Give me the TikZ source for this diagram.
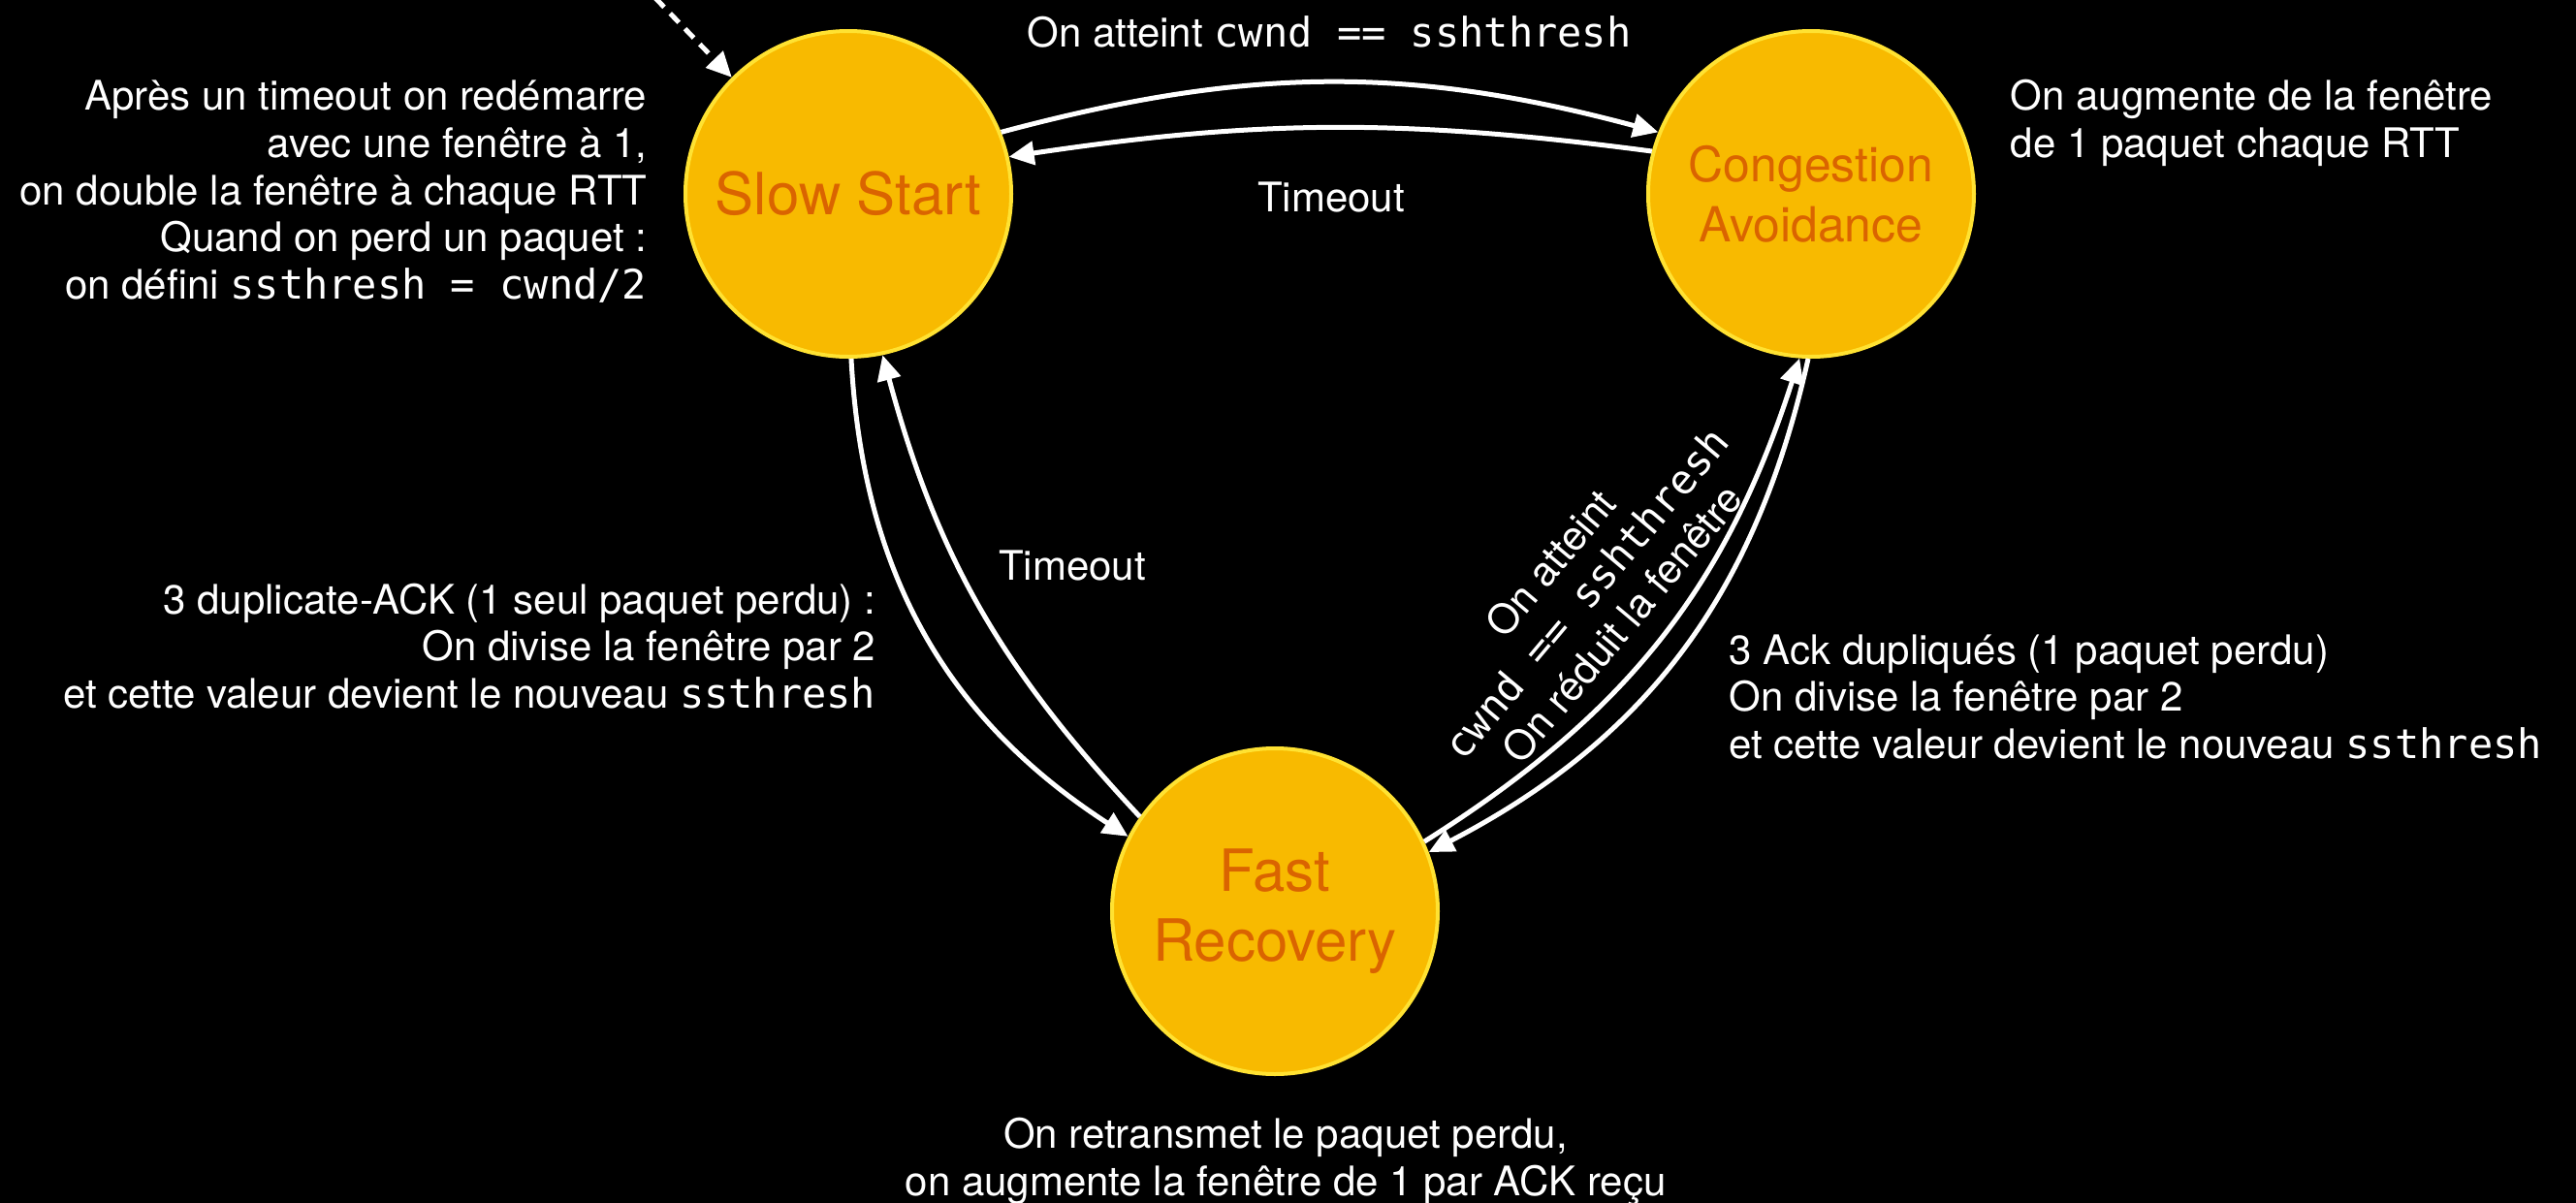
\documentclass[tikz,border=0pt]{standalone}
\usepackage{fontspec}
\setmainfont{TeX Gyre Heros}
\setmonofont{DejaVu Sans Mono}
\usetikzlibrary{arrows.meta}
\definecolor{statefill}{RGB}{248,186,0}
\definecolor{stateedge}{RGB}{255,226,50}
\definecolor{statetext}{RGB}{218,100,0}

\begin{document}
\begin{tikzpicture}[
  state/.style={circle, fill=statefill, draw=stateedge, line width=0.04cm,
    minimum size=3.36cm, inner sep=0pt, text=statetext, align=center},
  bigfont/.style={font=\fontsize{17.07}{20.5}\selectfont},
  midfont/.style={font=\fontsize{14.2}{17.6}\selectfont},
  note/.style={text=white, font=\fontsize{11.95}{13.8}\selectfont, inner sep=0pt},
  trans/.style={draw=white, line width=0.05cm,
    -{Triangle[length=0.26cm,width=0.24cm]}},
]
% black canvas
\fill[black] (0,0) rectangle (26.57,-12.41);
\useasboundingbox (0,0) rectangle (26.57,-12.41);

% the three states
\node[state, bigfont] (ss) at (8.75,-2.00) {Slow Start};
\node[state, midfont] (ca) at (18.68,-2.00) {Congestion\\Avoidance};
\node[state, bigfont] (fr) at (13.15,-9.40) {Fast\\Recovery};

% initial entry
\coordinate (entry) at (6.76,0.02);
\draw[trans, dash pattern=on 0.13cm off 0.09cm] (entry) -- (ss.135);

% transitions
\draw[trans] (ss.22) to[bend left=15] (ca.158);
\draw[trans] (ca.165) to[bend right=8] (ss.13);
\draw[trans] (ss.-89) to[bend right=27] (fr.153);
\draw[trans] (fr.145) to[bend left=14] (ss.-78);
\draw[trans] (fr.25) to[bend right=20] (ca.-94);
\draw[trans] (ca.-91) to[bend left=25] (fr.21);

% descriptions (base anchor = baseline of the last line)
\node[note, anchor=base east, align=right] (sstxt) at (6.68,-3.08)
  {Après un timeout on redémarre\\avec une fenêtre à 1,\\on double la fenêtre à chaque RTT\\Quand on perd un paquet :\\on défini \texttt{ssthresh = cwnd/2}};
\node[note, anchor=base west, align=left] (catxt) at (20.73,-1.62)
  {On augmente de la fenêtre\\de 1 paquet chaque RTT};
\node[note, anchor=base, align=center] (frtxt) at (13.26,-12.33)
  {On retransmet le paquet perdu,\\on augmente la fenêtre de 1 par ACK reçu};

% transition labels
\node[note, anchor=base] (upl) at (13.71,-0.48) {On atteint \texttt{cwnd == sshthresh}};
\node[note, anchor=base] (downl) at (13.73,-2.18) {Timeout};
\node[note, anchor=base] (backl) at (11.06,-5.98) {Timeout};
\node[note, anchor=base east, align=right] (dupl) at (9.04,-7.30)
  {3 duplicate-ACK (1 seul paquet perdu) :\\On divise la fenêtre par 2\\et cette valeur devient le nouveau \texttt{ssthresh}};
\node[note, anchor=base west, align=left] (ackl) at (17.83,-7.82)
  {3 Ack dupliqués (1 paquet perdu)\\On divise la fenêtre par 2\\et cette valeur devient le nouveau \texttt{ssthresh}};
\node[note, rotate=50, align=center] (reachl) at (16.36,-6.12)
  {On atteint\\\texttt{cwnd == sshthresh}\\On réduit la fenêtre};
\end{tikzpicture}
\end{document}
